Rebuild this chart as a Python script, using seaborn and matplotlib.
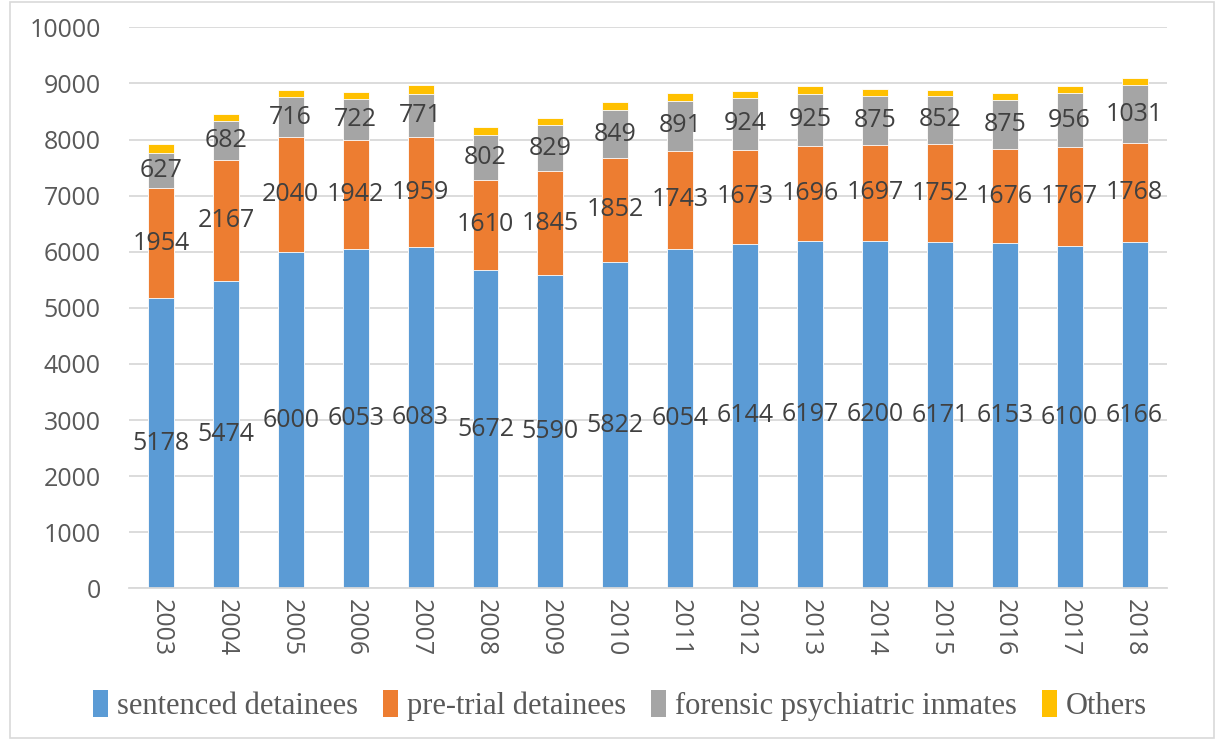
import numpy as np
import pandas as pd
import matplotlib
matplotlib.use('Agg')
import matplotlib.pyplot as plt
import seaborn as sns
from matplotlib.patches import Patch, Rectangle

# Data
years = ['2003', '2004', '2005', '2006', '2007', '2008', '2009', '2010',
         '2011', '2012', '2013', '2014', '2015', '2016', '2017', '2018']
sentenced = [5178, 5474, 6000, 6053, 6083, 5672, 5590, 5822,
             6054, 6144, 6197, 6200, 6171, 6153, 6100, 6166]
pretrial = [1954, 2167, 2040, 1942, 1959, 1610, 1845, 1852,
            1743, 1673, 1696, 1697, 1752, 1676, 1767, 1768]
forensic = [627, 682, 716, 722, 771, 802, 829, 849,
            891, 924, 925, 875, 852, 875, 956, 1031]
others = [155, 132, 121, 137, 153, 133, 126, 140,
          136, 130, 136, 123, 107, 120, 125, 126]

series_names = ['sentenced detainees', 'pre-trial detainees',
                'forensic psychiatric inmates', 'Others']
colors = ['#5B9BD5', '#ED7D31', '#A5A5A5', '#FFC000']

df = pd.DataFrame({'Year': years,
                   series_names[0]: sentenced,
                   series_names[1]: pretrial,
                   series_names[2]: forensic,
                   series_names[3]: others})

# cumulative tops for stacking
cum = df[series_names].cumsum(axis=1)

sns.set_style('white')
fig = plt.figure(figsize=(12.16, 7.4), dpi=100)
ax = fig.add_axes([0.1057, 0.205, 0.854, 0.758])

# draw tallest layer first so lower ones cover it
for name, col in reversed(list(zip(series_names, colors))):
    sns.barplot(x=df['Year'], y=cum[name], color=col, width=0.4,
                ax=ax, saturation=1, edgecolor='white', linewidth=0.6)

# data labels for the first three series, centred in each segment
for i in range(len(years)):
    base = 0
    for name in series_names[:3]:
        v = df[name].iloc[i]
        ax.text(i, base + v / 2, str(v), ha='center', va='center',
                fontsize=18, color='#404040', family='Open Sans')
        base += v

ax.set_ylim(0, 10000)
ax.set_yticks(range(0, 10001, 1000))
ax.set_xlim(-0.5, len(years) - 0.5)
ax.yaxis.grid(True, color='#D9D9D9', linewidth=1.3)
ax.set_axisbelow(True)
for s in ['top', 'right', 'left']:
    ax.spines[s].set_visible(False)
ax.spines['bottom'].set_color('#D9D9D9')
ax.spines['bottom'].set_linewidth(1.3)
ax.tick_params(axis='both', length=0, labelsize=18, labelcolor='#595959')
ax.tick_params(axis='x', pad=8)
ax.tick_params(axis='y', pad=20)
for lab in ax.get_yticklabels() + ax.get_xticklabels():
    lab.set_family('Open Sans')
plt.setp(ax.get_xticklabels(), rotation=-90)
ax.set_xlabel('')
ax.set_ylabel('')

handles = [Patch(facecolor=c, edgecolor='none') for c in colors]
leg = fig.legend(handles, series_names, loc='center', bbox_to_anchor=(0.51, 0.047),
                 ncol=4, frameon=False, handlelength=0.5, handleheight=1.0,
                 handletextpad=0.3, columnspacing=0.8,
                 prop={'family': 'Liberation Serif', 'size': 22})
for t in leg.get_texts():
    t.set_color('#595959')

# outer chart border
fig.patches.append(Rectangle((0.008, 0.003), 0.99, 0.994, transform=fig.transFigure,
                             fill=False, edgecolor='#D9D9D9', linewidth=1.2))

fig.savefig('out.png', dpi=100)
